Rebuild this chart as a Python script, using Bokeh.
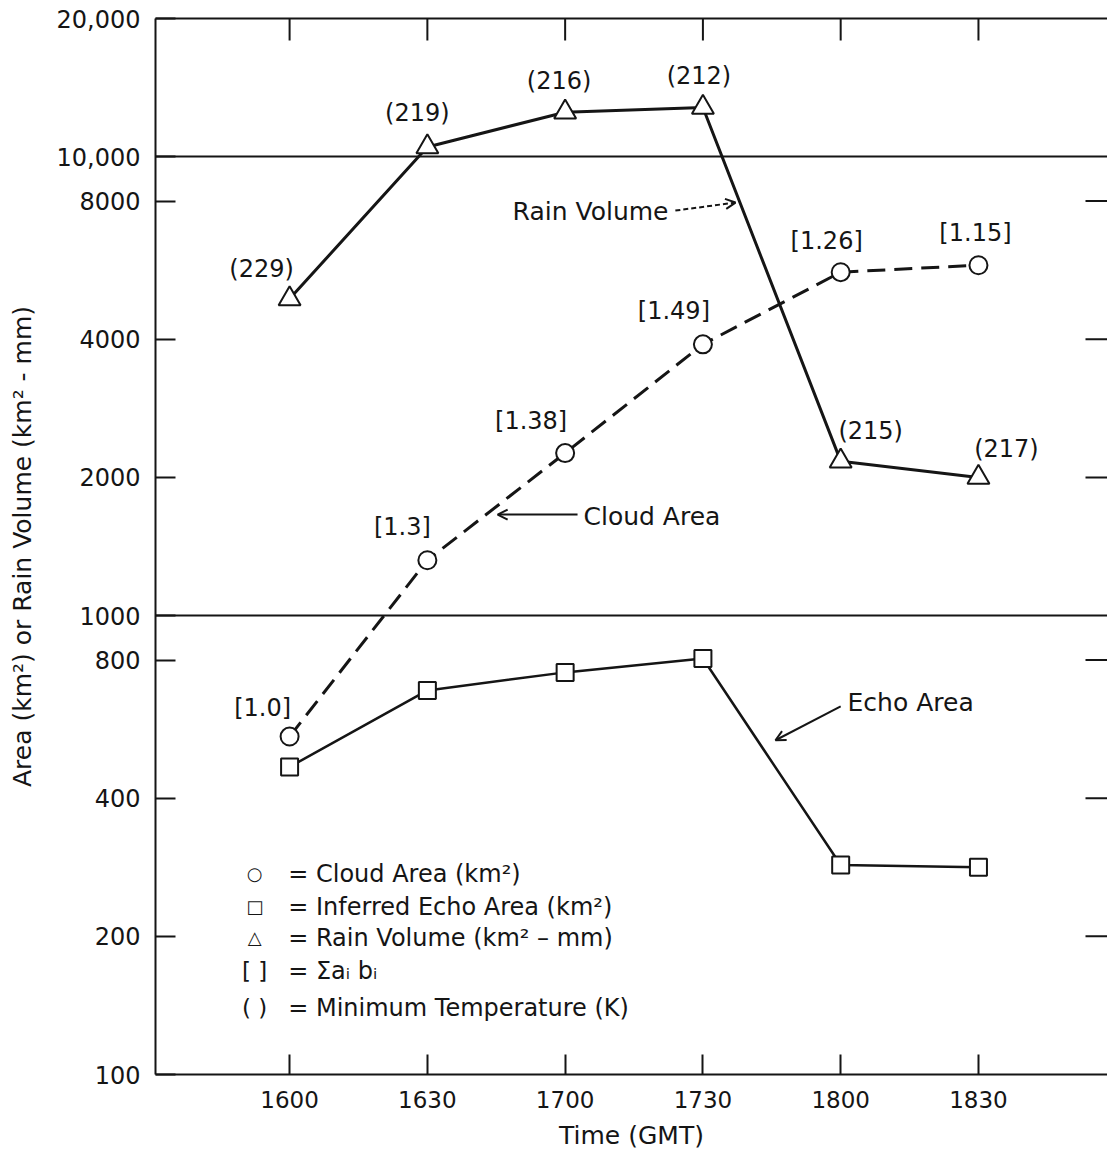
import math
from bokeh.plotting import figure
from bokeh.models import (ColumnDataSource, Range1d, FixedTicker, LinearAxis,
                          Arrow, OpenHead)
from bokeh.core.properties import value
from bokeh.embed import file_html
from bokeh.resources import INLINE

# ---------------- data ----------------
time_labels = ["1600", "1630", "1700", "1730", "1800", "1830"]
minutes = [0, 30, 60, 90, 120, 150]            # minutes after 1600 GMT
rain_volume = [4900, 10500, 12500, 12800, 2170, 2000]   # km^2 - mm
cloud_area = [545, 1320, 2260, 3900, 5600, 5800]        # km^2
echo_area = [468, 687, 752, 806, 286, 283]              # km^2
min_temperature = [229, 219, 216, 212, 215, 217]        # K
sum_ab = ["1.0", "1.3", "1.38", "1.49", "1.26", "1.15"]

y_ticks = [100, 200, 400, 800, 1000, 2000, 4000, 8000, 10000, 20000]
y_tick_labels = ["100", "200", "400", "800", "1000", "2000", "4000", "8000", "10,000", "20,000"]
right_ticks = [200, 400, 800, 2000, 4000, 8000]
grid_values = [1000, 10000]

legend_symbols = ["○", "□", "△", "[ ]", "( )"]
legend_texts = ["= Cloud Area (km²)", "= Inferred Echo Area (km²)",
                "= Rain Volume (km² – mm)", "= Σaᵢ bᵢ", "= Minimum Temperature (K)"]

# ---------------- styles / label placement ----------------
FONT = "DejaVu Sans"
INK = "#151515"
X_START, X_END = -29.2, 178.1
Y_START, Y_END = 100, 20000
rain_lbl_dx = [-28, -10, -6, -4, 30, 28]
rain_lbl_dy = [-30, -34, -31, -31, -30, -28]
cloud_lbl_dx = [-27, -25, -34, -29, -14, -3]
cloud_lbl_dy = [-29, -33, -32, -33, -31, -32]
legend_sym_x = [-7.6, -7.6, -7.6, -7.6, -7.6]
legend_sym_size = ["18px", "18px", "18px", "23px", "23px"]
legend_txt_x = [-0.3, -0.3, -0.3, -0.3, -0.3]
legend_row_y = [273.5, 231.8, 198.6, 168.3, 139.9]

p = figure(width=1107, height=1152, y_axis_type="log",
           x_range=Range1d(X_START, X_END), y_range=Range1d(Y_START, Y_END),
           output_backend="svg", toolbar_location=None,
           min_border_left=155, min_border_right=0, min_border_top=18,
           min_border_bottom=77)
p.outline_line_color = None
p.background_fill_color = "white"
p.border_fill_color = "white"

# bottom axis
xa = p.xaxis[0]
xa.ticker = FixedTicker(ticks=minutes)
xa.major_label_overrides = {m: t for m, t in zip(minutes, time_labels)}
xa.major_tick_in = 20
xa.major_tick_out = 0
xa.minor_tick_line_color = None
xa.axis_line_width = 2
xa.axis_line_color = INK
xa.major_tick_line_width = 2
xa.major_tick_line_color = INK
xa.major_label_text_font = FONT
xa.major_label_text_font_size = "23px"
xa.major_label_text_color = INK
xa.major_label_standoff = 16
xa.axis_label = "Time (GMT)"
xa.axis_label_text_font = FONT
xa.axis_label_text_font_size = "25px"
xa.axis_label_text_font_style = "normal"
xa.axis_label_text_color = INK
xa.axis_label_standoff = 10

# left axis
ya = p.yaxis[0]
ya.ticker = FixedTicker(ticks=y_ticks)
ya.major_label_overrides = {v: t for v, t in zip(y_ticks, y_tick_labels)}
ya.major_tick_in = 20
ya.major_tick_out = 0
ya.minor_tick_line_color = None
ya.axis_line_width = 2
ya.axis_line_color = INK
ya.major_tick_line_width = 2
ya.major_tick_line_color = INK
ya.major_label_text_font = FONT
ya.major_label_text_font_size = "24px"
ya.major_label_text_color = INK
ya.major_label_standoff = 15
ya.axis_label = "Area (km²) or Rain Volume (km² - mm)"
ya.axis_label_text_font = FONT
ya.axis_label_text_font_size = "25px"
ya.axis_label_text_font_style = "normal"
ya.axis_label_text_color = INK
ya.axis_label_standoff = 17

# top frame line (no ticks of its own)
top = LinearAxis(ticker=FixedTicker(ticks=[]), minor_tick_line_color=None,
                 axis_line_width=2, axis_line_color=INK)
p.add_layout(top, "above")

p.xgrid.visible = False
p.ygrid.ticker = FixedTicker(ticks=grid_values)
p.ygrid.grid_line_color = INK
p.ygrid.grid_line_width = 2
p.ygrid.minor_grid_line_color = None

# inward tick marks on the top and right edges (half of each dash is clipped)
p.scatter(x=minutes, y=[Y_END] * len(minutes), marker="dash", size=44,
          angle=math.pi / 2, line_color=INK, line_width=2)
p.scatter(x=[X_END] * len(right_ticks), y=right_ticks, marker="dash", size=44,
          line_color=INK, line_width=2)

src = ColumnDataSource(dict(
    x=minutes, rain=rain_volume, cloud=cloud_area, echo=echo_area,
    rain_txt=["(%d)" % t for t in min_temperature],
    cloud_txt=["[%s]" % s for s in sum_ab],
    rdx=rain_lbl_dx, rdy=rain_lbl_dy, cdx=cloud_lbl_dx, cdy=cloud_lbl_dy,
))

p.line("x", "rain", source=src, line_color=INK, line_width=3)
p.line("x", "cloud", source=src, line_color=INK, line_width=3, line_dash="18 9")
p.line("x", "echo", source=src, line_color=INK, line_width=2.5)

p.scatter("x", "rain", source=src, marker="triangle", size=22, line_color=INK,
          line_width=2, fill_color="white")
p.scatter("x", "cloud", source=src, marker="circle", size=18, line_color=INK,
          line_width=2, fill_color="white")
p.scatter("x", "echo", source=src, marker="square", size=17, line_color=INK,
          line_width=2, fill_color="white")

p.text("x", "rain", text="rain_txt", source=src, x_offset="rdx", y_offset="rdy",
       text_font=value(FONT), text_font_size="24px", text_color=INK,
       text_align="center", text_baseline="middle")
p.text("x", "cloud", text="cloud_txt", source=src, x_offset="cdx", y_offset="cdy",
       text_font=value(FONT), text_font_size="24px", text_color=INK,
       text_align="center", text_baseline="middle")

# curve annotations
ann = ColumnDataSource(dict(
    x=[82.5, 64.0, 121.5], y=[7595, 1641, 647],
    text=["Rain Volume", "Cloud Area", "Echo Area"],
    align=["right", "left", "left"],
))
p.text("x", "y", text="text", source=ann, text_align="align", text_baseline="middle",
       text_font=value(FONT), text_font_size="25px", text_color=INK)

p.add_layout(Arrow(x_start=84.0, y_start=7630, x_end=97.1, y_end=7943,
                   line_color=INK, line_width=2, line_dash="5 3",
                   end=OpenHead(size=10, line_color=INK, line_width=2)))
p.add_layout(Arrow(x_start=62.7, y_start=1660, x_end=45.3, y_end=1660,
                   line_color=INK, line_width=2,
                   end=OpenHead(size=10, line_color=INK, line_width=2)))
p.add_layout(Arrow(x_start=120.0, y_start=634, x_end=105.8, y_end=535,
                   line_color=INK, line_width=2,
                   end=OpenHead(size=10, line_color=INK, line_width=2)))

# key
key = ColumnDataSource(dict(sx=legend_sym_x, tx=legend_txt_x, y=legend_row_y,
                            sym=legend_symbols, txt=legend_texts, fs=legend_sym_size))
p.text("sx", "y", text="sym", source=key, text_align="center", text_baseline="middle",
       text_font=value(FONT), text_font_size="fs", text_color=INK)
p.text("tx", "y", text="txt", source=key, text_align="left", text_baseline="middle",
       text_font=value(FONT), text_font_size="24px", text_color=INK)

open("out.html", "w").write(file_html(p, INLINE))
